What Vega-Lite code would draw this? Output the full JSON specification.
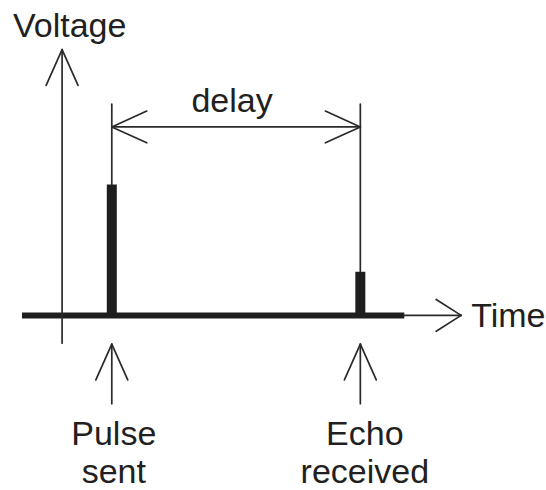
{
  "$schema": "https://vega.github.io/schema/vega-lite/v6.json",
  "width": 546,
  "height": 490,
  "autosize": {"type": "fit", "contains": "padding"},
  "padding": 0,
  "background": "white",
  "config": {"view": {"stroke": null}},
  "datasets": {
    "segments": [
      {"part": "voltage axis", "x": 0, "y": -0.636, "x2": 0, "y2": 6.09},
      {"part": "voltage head", "x": 0, "y": 6.09, "x2": -0.321, "y2": 5.27},
      {"part": "voltage head", "x": 0, "y": 6.09, "x2": 0.321, "y2": 5.27},
      {"part": "time axis", "x": 6.884, "y": 0, "x2": 8.028, "y2": 0},
      {"part": "time head", "x": 8.028, "y": 0, "x2": 7.526, "y2": 0.364},
      {"part": "time head", "x": 8.028, "y": 0, "x2": 7.526, "y2": -0.364},
      {"part": "delay", "x": 1, "y": 4.318, "x2": 6, "y2": 4.318},
      {"part": "delay head", "x": 1, "y": 4.318, "x2": 1.703, "y2": 4.682},
      {"part": "delay head", "x": 1, "y": 4.318, "x2": 1.703, "y2": 3.954},
      {"part": "delay head", "x": 6, "y": 4.318, "x2": 5.297, "y2": 4.682},
      {"part": "delay head", "x": 6, "y": 4.318, "x2": 5.297, "y2": 3.954},
      {"part": "leader", "x": 1, "y": 3, "x2": 1, "y2": 4.84},
      {"part": "leader", "x": 6, "y": 1, "x2": 6, "y2": 4.84},
      {"part": "pulse arrow", "x": 1, "y": -2.023, "x2": 1, "y2": -0.659},
      {"part": "pulse head", "x": 1, "y": -0.659, "x2": 0.679, "y2": -1.477},
      {"part": "pulse head", "x": 1, "y": -0.659, "x2": 1.321, "y2": -1.477},
      {"part": "echo arrow", "x": 6, "y": -2.023, "x2": 6, "y2": -0.659},
      {"part": "echo head", "x": 6, "y": -0.659, "x2": 5.679, "y2": -1.477},
      {"part": "echo head", "x": 6, "y": -0.659, "x2": 6.321, "y2": -1.477}
    ],
    "baseline": [{"x": -0.807, "x2": 6.884, "y": 0}],
    "pulses": [
      {"t": 1, "v": 3, "name": "Pulse sent"},
      {"t": 6, "v": 1, "name": "Echo received"}
    ],
    "leftText": [
      {"x": -0.988, "y": 6.386, "text": "Voltage"},
      {"x": 8.229, "y": -0.273, "text": "Time"}
    ],
    "centerText": [
      {"x": 3.42, "y": 4.66, "text": "delay"},
      {"x": 1.04, "y": -2.977, "text": "Pulse\nsent"},
      {"x": 6.09, "y": -2.977, "text": "Echo\nreceived"}
    ]
  },
  "layer": [
    {
      "data": {"name": "baseline"},
      "mark": {"type": "rule", "strokeWidth": 6, "color": "#1e1e1e", "strokeCap": "butt"},
      "encoding": {
        "x": {"field": "x", "type": "quantitative", "scale": {"domain": [-1.249, 9.715], "nice": false, "zero": false}, "axis": null},
        "x2": {"field": "x2"},
        "y": {"field": "y", "type": "quantitative", "scale": {"domain": [-3.909, 7.227], "nice": false, "zero": false}, "axis": null}
      }
    },
    {
      "data": {"name": "pulses"},
      "mark": {"type": "rule", "strokeWidth": 10, "color": "#1e1e1e", "strokeCap": "butt"},
      "encoding": {
        "x": {"field": "t", "type": "quantitative", "scale": {"domain": [-1.249, 9.715], "nice": false, "zero": false}, "axis": null},
        "y": {"field": "v", "type": "quantitative", "scale": {"domain": [-3.909, 7.227], "nice": false, "zero": false}, "axis": null},
        "y2": {"datum": 0}
      }
    },
    {
      "data": {"name": "segments"},
      "mark": {"type": "rule", "strokeWidth": 1.7, "color": "#2a2a2a", "strokeCap": "round"},
      "encoding": {
        "x": {"field": "x", "type": "quantitative", "scale": {"domain": [-1.249, 9.715], "nice": false, "zero": false}, "axis": null},
        "x2": {"field": "x2"},
        "y": {"field": "y", "type": "quantitative", "scale": {"domain": [-3.909, 7.227], "nice": false, "zero": false}, "axis": null},
        "y2": {"field": "y2"}
      }
    },
    {
      "data": {"name": "leftText"},
      "mark": {"type": "text", "align": "left", "baseline": "alphabetic", "font": "Liberation Sans", "fontSize": 34, "color": "#231f20"},
      "encoding": {
        "x": {"field": "x", "type": "quantitative", "scale": {"domain": [-1.249, 9.715], "nice": false, "zero": false}, "axis": null},
        "y": {"field": "y", "type": "quantitative", "scale": {"domain": [-3.909, 7.227], "nice": false, "zero": false}, "axis": null},
        "text": {"field": "text"}
      }
    },
    {
      "data": {"name": "centerText"},
      "mark": {"type": "text", "align": "center", "baseline": "alphabetic", "font": "Liberation Sans", "fontSize": 34, "color": "#231f20", "lineBreak": "\n", "lineHeight": 38},
      "encoding": {
        "x": {"field": "x", "type": "quantitative", "scale": {"domain": [-1.249, 9.715], "nice": false, "zero": false}, "axis": null},
        "y": {"field": "y", "type": "quantitative", "scale": {"domain": [-3.909, 7.227], "nice": false, "zero": false}, "axis": null},
        "text": {"field": "text"}
      }
    }
  ]
}
